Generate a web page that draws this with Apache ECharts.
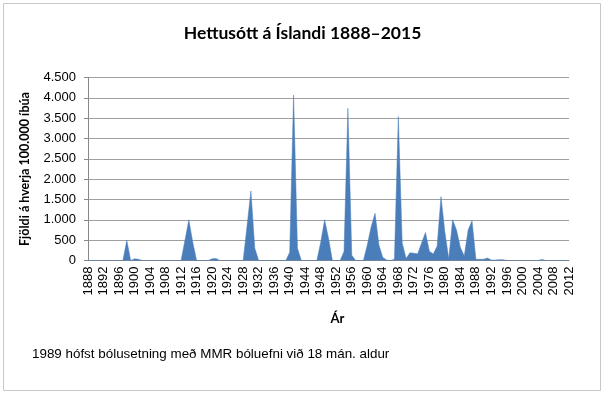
<!DOCTYPE html>
<html>
<head>
<meta charset="utf-8">
<script src="https://cdn.jsdelivr.net/npm/echarts@6/dist/echarts.min.js"></script>
<style>
html,body{margin:0;padding:0;background:#fff;}
#chart{width:605px;height:394px;}
</style>
</head>
<body>
<div id="chart"></div>
<script>
// Categories: years 1888..2012
const firstYear = 1888;
const lastYear = 2012;
const years = [];
for (let y = firstYear; y <= lastYear; y++) years.push(String(y));

// Cases per 100,000 inhabitants, one value per year
const cases = [
  // 1888-1897
  0, 0, 0, 0, 0, 0, 0, 0, 0, 0,
  // 1898-1907
  500, 0, 40, 30, 0, 0, 0, 0, 0, 0,
  // 1908-1917
  0, 0, 0, 0, 0, 500, 1000, 450, 0, 0,
  // 1918-1927
  0, 0, 40, 50, 0, 0, 0, 0, 0, 0,
  // 1928-1937
  0, 850, 1710, 300, 0, 0, 0, 0, 0, 0,
  // 1938-1947
  0, 0, 200, 4070, 300, 0, 0, 0, 0, 0,
  // 1948-1957
  450, 1000, 550, 0, 0, 0, 220, 3740, 130, 0,
  // 1958-1967
  0, 0, 380, 830, 1160, 380, 75, 10, 0, 30,
  // 1968-1977
  3540, 430, 50, 190, 180, 165, 430, 690, 230, 160,
  // 1978-1987
  350, 1570, 700, 40, 1000, 750, 320, 110, 750, 980,
  // 1988-1997
  30, 30, 30, 60, 10, 10, 20, 20, 0, 0,
  // 1998-2007
  0, 0, 0, 0, 0, 0, 0, 25, 0, 0,
  // 2008-2012
  0, 0, 0, 0, 0
];

const yTicks = { min: 0, max: 4500, step: 500 };

const titleText = 'Hettusótt á Íslandi 1888–2015';
const yName = 'Fjöldi á hverja 100.000 íbúa';
const xName = 'Ár';
const noteText = '1989 hófst bólusetning með MMR bóluefni við 18 mán. aldur';

function fmt(v) {
  return String(v).replace(/\B(?=(\d{3})+(?!\d))/g, '.');
}

const chart = echarts.init(document.getElementById('chart'), null, {renderer: 'canvas'});
chart.setOption({
  animation: false,
  backgroundColor: '#fff',
  title: {
    text: titleText,
    left: 'center',
    top: 19,
    textStyle: {fontFamily: 'Lato', fontWeight: 'bold', fontSize: 17.5, color: '#000'}
  },
  grid: {left: 88, right: 36, top: 77.5, bottom: 133.5},
  xAxis: {
    type: 'category',
    data: years,
    boundaryGap: false,
    name: xName,
    nameLocation: 'middle',
    nameGap: 52,
    nameTextStyle: {fontFamily: 'Lato', fontWeight: 'bold', fontSize: 13, color: '#000', padding: [0, 0, 0, 18]},
    axisLine: {lineStyle: {color: '#888', width: 1}},
    axisTick: {show: false},
    axisLabel: {
      interval: 3,
      rotate: 90,
      margin: 6,
      fontFamily: 'Liberation Sans',
      fontSize: 13,
      color: '#000'
    },
    splitLine: {show: false}
  },
  yAxis: {
    type: 'value',
    min: yTicks.min,
    max: yTicks.max,
    interval: yTicks.step,
    name: yName,
    nameLocation: 'middle',
    nameGap: 57,
    nameTextStyle: {fontFamily: 'Lato', fontWeight: 'bold', fontSize: 12.5, color: '#000'},
    axisLine: {show: true, lineStyle: {color: '#888', width: 1}},
    axisTick: {show: true, length: 4, lineStyle: {color: '#888'}},
    axisLabel: {
      formatter: fmt,
      margin: 12,
      fontFamily: 'Liberation Sans',
      fontSize: 13,
      color: '#000'
    },
    splitLine: {lineStyle: {color: '#a0a0a0', width: 1}}
  },
  series: [{
    type: 'line',
    data: cases,
    symbol: 'none',
    lineStyle: {width: 0.5, color: '#4a7ebb'},
    areaStyle: {color: '#4a7ebb', opacity: 1},
    z: 3
  }],
  graphic: [
    {
      type: 'rect',
      shape: {x: 3.5, y: 3.5, width: 597, height: 387},
      style: {fill: 'none', stroke: '#c8c8c8', lineWidth: 1},
      silent: true
    },
    {
      type: 'text',
      left: 32,
      top: 348,
      style: {text: noteText, font: '13.4px "Liberation Sans"', fill: '#000'}
    }
  ]
});
</script>
</body>
</html>
